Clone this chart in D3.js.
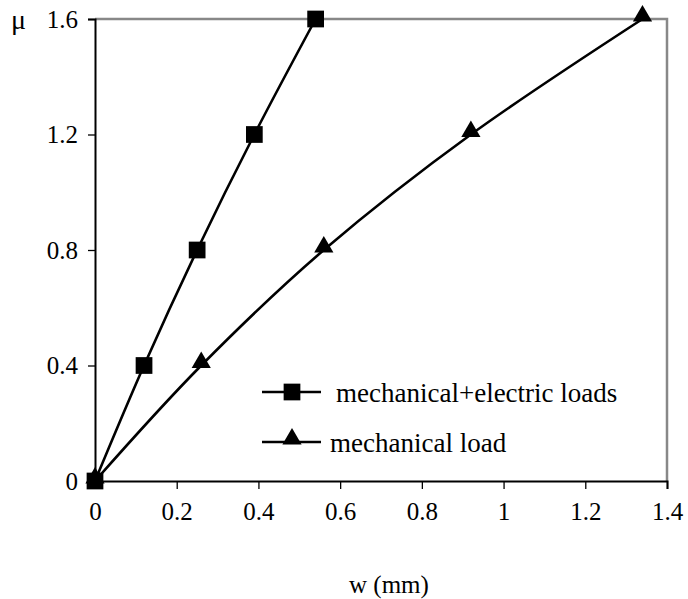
<!DOCTYPE html>
<html lang="en">
<head>
  <meta charset="UTF-8">
  <title>mu vs w</title>
  <style>
    body { margin: 0; background: #fff; }
    text { font-family: "Liberation Serif", "Times New Roman", serif; fill: #000; }
  </style>
</head>
<body>
  <div class="chart"></div>
  <script src="https://cdnjs.cloudflare.com/ajax/libs/d3/7.8.5/d3.min.js"></script>
  <script>
    'use strict';

    // data
    const muValues = [0, 0.4, 0.8, 1.2, 1.6];
    const wMechElectric = [0, 0.12, 0.25, 0.39, 0.54];
    const wMechanical = [0, 0.26, 0.56, 0.92, 1.34];
    const seriesNames = ['mechanical+electric loads', 'mechanical load'];
    const xTicks = [0, 0.2, 0.4, 0.6, 0.8, 1, 1.2, 1.4];
    const yTicks = [0, 0.4, 0.8, 1.2, 1.6];

    const W = 688, H = 599;
    const margin = { top: 19, right: 21, bottom: 118, left: 95 };

    const svg = d3.select('.chart').append('svg')
      .attr('width', W)
      .attr('height', H);

    const x = d3.scaleLinear().domain([0, 1.4]).range([margin.left, W - margin.right]);
    const y = d3.scaleLinear().domain([0, 1.6]).range([H - margin.bottom, margin.top]);

    // frame: top and right in gray
    svg.append('path')
      .attr('d', `M${x(0)},${y(1.6)}H${x(1.4)}V${y(0)}`)
      .attr('fill', 'none')
      .attr('stroke', '#888')
      .attr('stroke-width', 2.5);

    const xAxis = svg.append('g')
      .attr('transform', `translate(0,${y(0)})`)
      .call(d3.axisBottom(x).tickValues(xTicks).tickSize(8).tickPadding(13).tickFormat(d3.format('')));
    const yAxis = svg.append('g')
      .attr('transform', `translate(${x(0)},0)`)
      .call(d3.axisLeft(y).tickValues(yTicks).tickSize(7).tickPadding(10).tickFormat(d3.format('')));

    [xAxis, yAxis].forEach(g => {
      g.select('.domain').attr('stroke', '#000').attr('stroke-width', 2);
      g.selectAll('.tick line').attr('stroke', '#000').attr('stroke-width', 1.3);
      g.selectAll('.tick text')
        .style('font-family', '"Liberation Serif", serif')
        .style('font-size', '25px')
        .attr('fill', '#000');
    });

    // axis titles
    svg.append('text')
      .attr('x', 11).attr('y', 29)
      .style('font-size', '28px')
      .text('μ');
    svg.append('text')
      .attr('x', 349).attr('y', 593)
      .style('font-size', '25px')
      .text('w (mm)');

    const line = d3.line()
      .x(d => x(d[0]))
      .y(d => y(d[1]))
      .curve(d3.curveCatmullRom.alpha(0));

    const seriesA = wMechElectric.map((w, i) => [w, muValues[i]]);
    const seriesB = wMechanical.map((w, i) => [w, muValues[i]]);

    const square = d3.symbol().type(d3.symbolSquare).size(280);
    const triangle = d3.symbol().type(d3.symbolTriangle).size(160);

    [[seriesB, triangle, 3], [seriesA, square, 0]].forEach(([data, sym, dy]) => {
      svg.append('path')
        .datum(data)
        .attr('d', line)
        .attr('fill', 'none')
        .attr('stroke', '#000')
        .attr('stroke-width', 2.6);
      svg.selectAll(null)
        .data(data)
        .enter().append('path')
        .attr('d', sym)
        .attr('transform', d => `translate(${x(d[0])},${y(d[1]) - dy})`)
        .attr('fill', '#000');
    });

    // legend
    const legend = svg.append('g');
    const legendRows = [
      { name: seriesNames[0], sym: square, yy: 392, tx: 336, dy: 0 },
      { name: seriesNames[1], sym: triangle, yy: 442, tx: 330, dy: 3 }
    ];
    legendRows.forEach(r => {
      legend.append('line')
        .attr('x1', 262).attr('x2', 321)
        .attr('y1', r.yy).attr('y2', r.yy)
        .attr('stroke', '#000').attr('stroke-width', 2.6);
      legend.append('path')
        .attr('d', r.sym)
        .attr('transform', `translate(292,${r.yy - r.dy})`)
        .attr('fill', '#000');
      legend.append('text')
        .attr('x', r.tx).attr('y', r.yy + 10)
        .style('font-size', '27px')
        .text(r.name);
    });
  </script>
</body>
</html>
